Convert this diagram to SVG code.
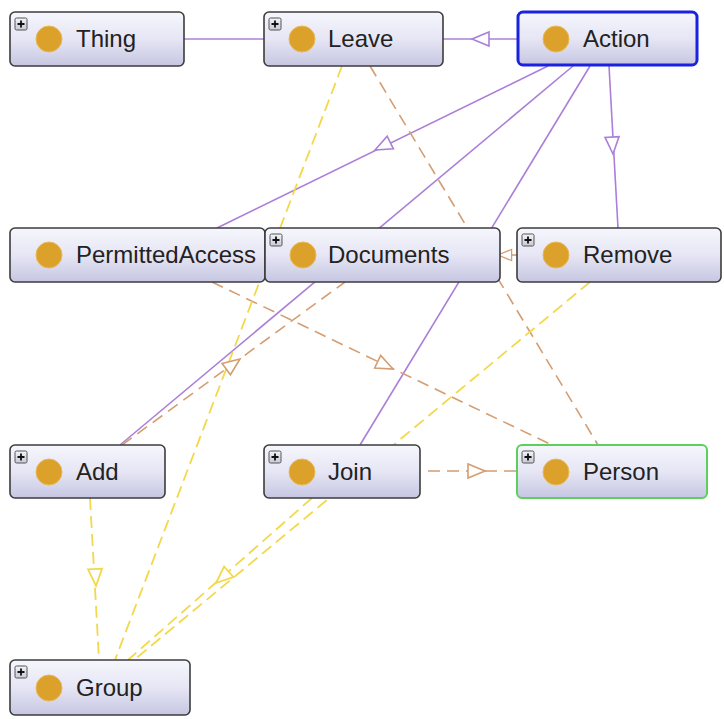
<svg xmlns="http://www.w3.org/2000/svg" xmlns:xlink="http://www.w3.org/1999/xlink" width="724" height="719" viewBox="0 0 724 719">
<defs>
<linearGradient id="nodeGrad" x1="0" y1="0" x2="0" y2="1">
<stop offset="0" stop-color="#f6f6fd"/>
<stop offset="0.5" stop-color="#e6e6f5"/>
<stop offset="1" stop-color="#c6c6e2"/>
</linearGradient>
<linearGradient id="plusGrad" x1="0" y1="0" x2="0" y2="1">
<stop offset="0" stop-color="#f4f4f8"/>
<stop offset="1" stop-color="#c8c8d8"/>
</linearGradient>
<path id="tri" d="M0,0 L-17,-7 L-17,7 Z"/>
<g id="plus">
<rect x="0" y="0" width="12" height="12" rx="1.5" fill="url(#plusGrad)" stroke="#555" stroke-width="1"/>
<path d="M2.5,6 H9.5 M6,2.5 V9.5" stroke="#111" stroke-width="1.8"/>
</g>
</defs>
<style>
.box{fill:url(#nodeGrad);stroke:#3c3c3c;stroke-width:1.6}
.sel{stroke:#1a22e0;stroke-width:3}
.grn{stroke:#5ccf5c;stroke-width:2}
.dot{fill:#dba12a;stroke:#e8b858;stroke-width:1}
.lbl{font-family:"Liberation Sans",Arial,sans-serif;font-size:24px;fill:#222}
.pur{stroke:#ab7fd8;stroke-width:1.6;fill:none}
.org{stroke:#d49d72;stroke-width:1.6;fill:none;stroke-dasharray:12 7}
.yel{stroke:#f2d84a;stroke-width:1.8;fill:none;stroke-dasharray:12 6}
.hp{fill:#fff;stroke:#ab7fd8;stroke-width:1.6}
.ho{fill:#fff;stroke:#d49d72;stroke-width:1.6}
.hy{fill:#fff;stroke:#f2d84a;stroke-width:1.8}
</style>
<rect width="724" height="719" fill="#fff"/>
<g id="connectors">
<path class="pur" d="M184,39 L264,39"/>
<path class="pur" d="M518,39 L443,39"/>
<path class="pur" d="M548,66 L217,228"/>
<path class="pur" d="M573,66 L120,445"/>
<path class="pur" d="M590,66 L360,445"/>
<path class="pur" d="M609,66 L618,228"/>
<path class="org" d="M370,66 L598,445"/>
<path class="org" d="M212,282 L552,445"/>
<path class="org" d="M122,445 L345,282"/>
<path class="org" d="M517,255 L500,255"/>
<path class="org" d="M428,471 L517,471"/>
<path class="yel" d="M342,66 L115,660"/>
<path class="yel" d="M90,498 L99,660"/>
<path class="yel" d="M312,498 L128,660"/>
<path class="yel" d="M590,282 L134,660"/>
<use href="#tri" class="hp" transform="translate(472,39) rotate(180)"/>
<use href="#tri" class="hp" transform="translate(375,150) rotate(153.9)"/>
<use href="#tri" class="hp" transform="translate(613,154) rotate(86.8)"/>
<use href="#tri" class="ho" transform="translate(393,369) rotate(25.6)"/>
<use href="#tri" class="ho" transform="translate(240,359) rotate(-36.2)"/>
<use href="#tri" class="ho" transform="translate(498,255) rotate(180) scale(0.8)"/>
<use href="#tri" class="ho" transform="translate(485,471)"/>
<use href="#tri" class="hy" transform="translate(96,586) rotate(86.8)"/>
<use href="#tri" class="hy" transform="translate(216,583) rotate(138.6)"/>
</g>
<g id="node-thing">
<rect class="box" x="10" y="12" width="174" height="54" rx="5"/>
<circle class="dot" cx="49" cy="39" r="13"/>
<text class="lbl" x="76" y="47">Thing</text>
<use href="#plus" x="15" y="18"/>
</g>
<g id="node-leave">
<rect class="box" x="264" y="12" width="179" height="54" rx="5"/>
<circle class="dot" cx="302" cy="39" r="13"/>
<text class="lbl" x="328" y="47">Leave</text>
<use href="#plus" x="269" y="18"/>
</g>
<g id="node-action">
<rect class="box sel" x="518" y="12" width="179" height="53" rx="5"/>
<circle class="dot" cx="556" cy="39" r="13"/>
<text class="lbl" x="583" y="47">Action</text>
</g>
<g id="node-permittedaccess">
<rect class="box" x="10" y="228" width="255" height="54" rx="5"/>
<circle class="dot" cx="49" cy="255" r="13"/>
<text class="lbl" x="76" y="263">PermittedAccess</text>
</g>
<g id="node-documents">
<rect class="box" x="265" y="228" width="235" height="54" rx="5"/>
<circle class="dot" cx="303" cy="255" r="13"/>
<text class="lbl" x="328" y="263">Documents</text>
<use href="#plus" x="270" y="234"/>
</g>
<g id="node-remove">
<rect class="box" x="517" y="228" width="204" height="54" rx="5"/>
<circle class="dot" cx="556" cy="255" r="13"/>
<text class="lbl" x="583" y="263">Remove</text>
<use href="#plus" x="522" y="234"/>
</g>
<g id="node-add">
<rect class="box" x="10" y="445" width="155" height="53" rx="5"/>
<circle class="dot" cx="49" cy="472" r="13"/>
<text class="lbl" x="76" y="480">Add</text>
<use href="#plus" x="15" y="451"/>
</g>
<g id="node-join">
<rect class="box" x="264" y="445" width="156" height="53" rx="5"/>
<circle class="dot" cx="302" cy="472" r="13"/>
<text class="lbl" x="328" y="480">Join</text>
<use href="#plus" x="269" y="451"/>
</g>
<g id="node-person">
<rect class="box grn" x="517" y="445" width="190" height="53" rx="5"/>
<circle class="dot" cx="556" cy="472" r="13"/>
<text class="lbl" x="583" y="480">Person</text>
<use href="#plus" x="522" y="451"/>
</g>
<g id="node-group">
<rect class="box" x="10" y="660" width="180" height="55" rx="5"/>
<circle class="dot" cx="49" cy="688" r="13"/>
<text class="lbl" x="76" y="696">Group</text>
<use href="#plus" x="15" y="666"/>
</g>
</svg>
